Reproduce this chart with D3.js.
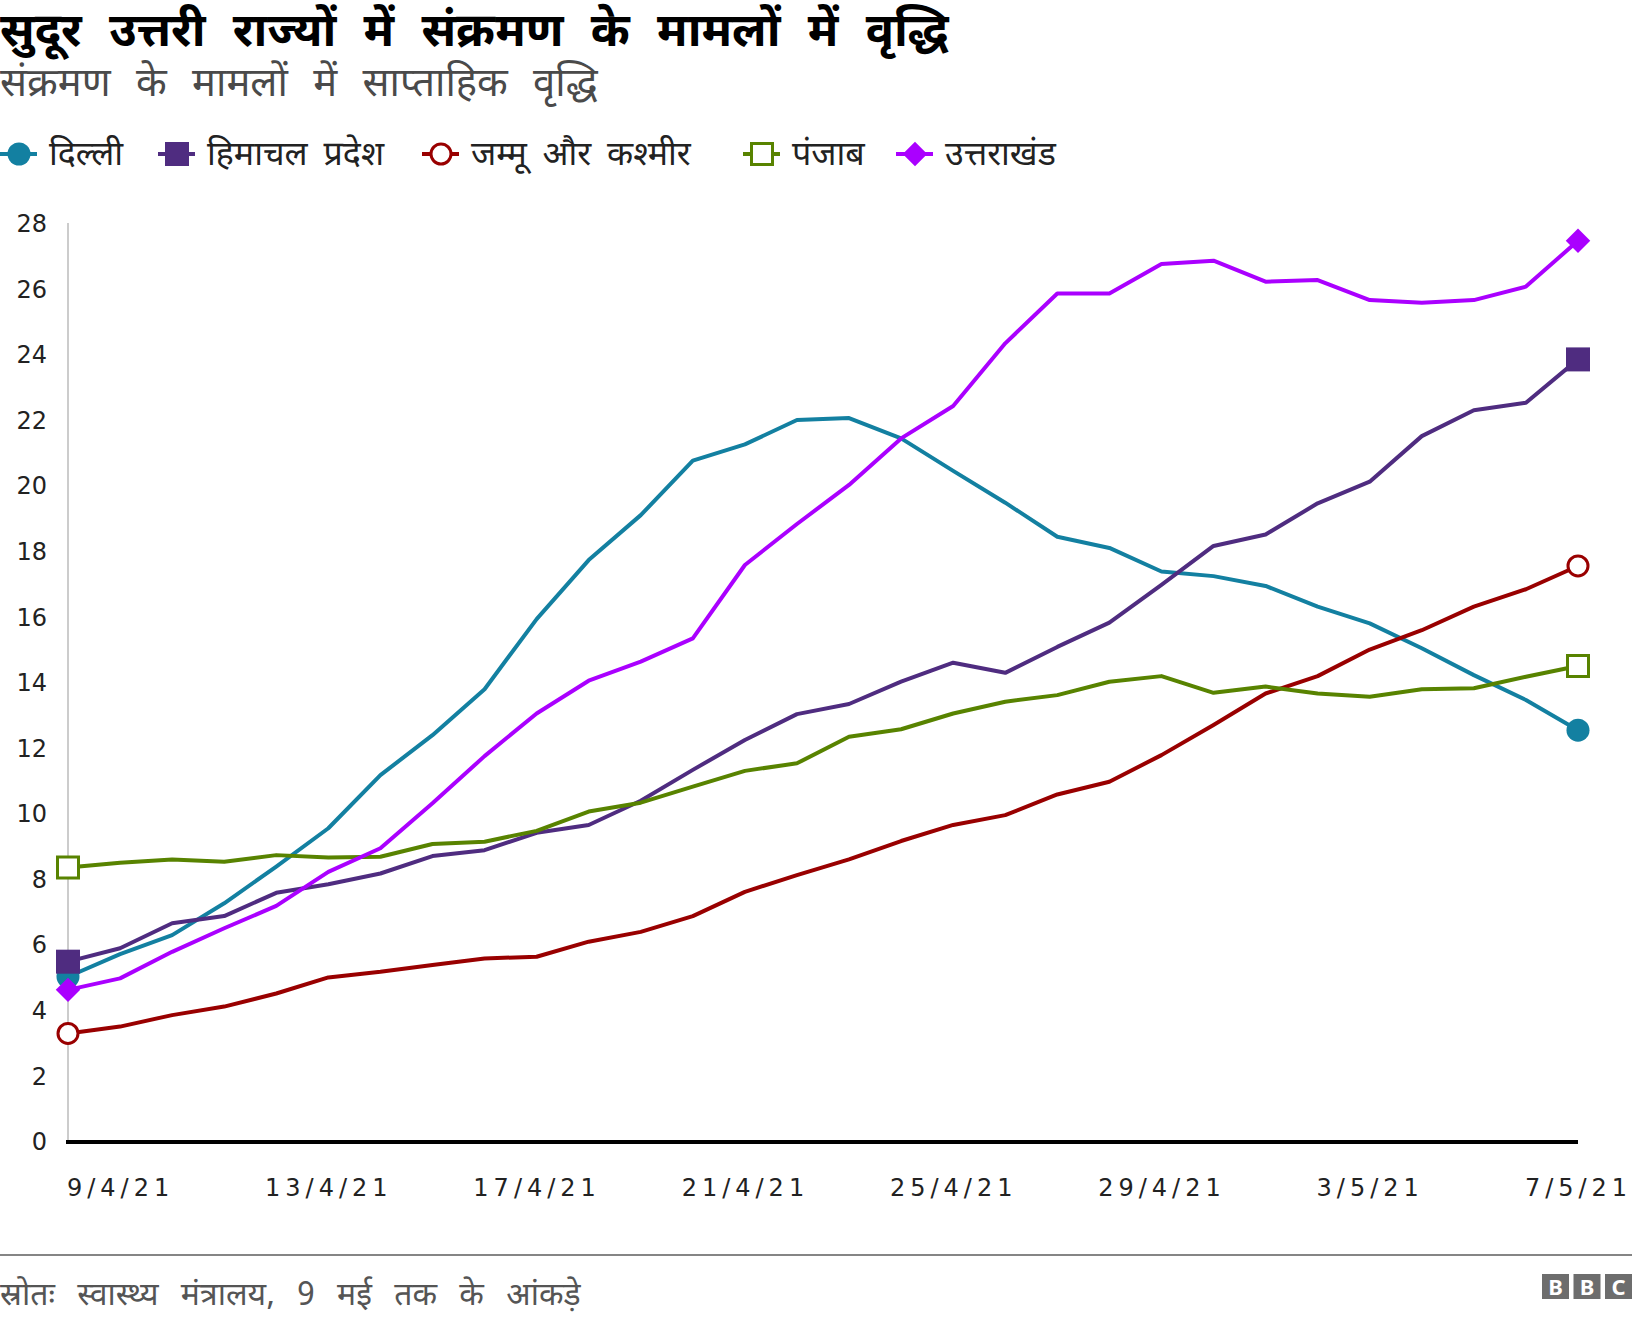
<!DOCTYPE html>
<html>
<head>
<meta charset="utf-8">
<script src="https://d3js.org/d3.v7.min.js"></script>
<style>
body { margin: 0; background: #fff; }
svg text { font-family: "Noto Sans Devanagari", "Noto Sans", sans-serif; }
.num text, text.num { font-family: "DejaVu Sans", sans-serif; }
</style>
</head>
<body>
<svg id="chart" width="1632" height="1322"></svg>
<script>
// dates (one point per day)
var dates = ["8/4/21","9/4/21","10/4/21","11/4/21","12/4/21","13/4/21","14/4/21","15/4/21","16/4/21","17/4/21",
  "18/4/21","19/4/21","20/4/21","21/4/21","22/4/21","23/4/21","24/4/21","25/4/21","26/4/21","27/4/21",
  "28/4/21","29/4/21","30/4/21","1/5/21","2/5/21","3/5/21","4/5/21","5/5/21","6/5/21","7/5/21"];
var tickDates = ["9/4/21","13/4/21","17/4/21","21/4/21","25/4/21","29/4/21","3/5/21","7/5/21"];
var yTicks = [0,2,4,6,8,10,12,14,16,18,20,22,24,26,28];

var delhi = [5.04,5.73,6.31,7.28,8.4,9.57,11.19,12.41,13.81,15.95,17.75,19.12,20.78,21.28,22.02,
  22.08,21.46,20.47,19.5,18.46,18.12,17.4,17.26,16.96,16.33,15.82,15.06,14.24,13.48,12.56];
var himachal = [5.5,5.91,6.67,6.89,7.6,7.86,8.19,8.72,8.9,9.43,9.67,10.41,11.35,12.26,13.05,
  13.36,14.04,14.62,14.31,15.1,15.84,16.99,18.18,18.53,19.48,20.14,21.53,22.32,22.55,23.87];
var jammu = [3.31,3.52,3.87,4.13,4.53,5.02,5.19,5.4,5.6,5.65,6.11,6.41,6.89,7.63,8.14,
  8.62,9.18,9.67,9.97,10.6,10.99,11.8,12.72,13.68,14.21,15.02,15.61,16.33,16.86,17.57];
var punjab = [8.37,8.52,8.62,8.55,8.75,8.68,8.7,9.09,9.16,9.49,10.08,10.35,10.84,11.32,11.55,
  12.36,12.59,13.07,13.43,13.63,14.04,14.21,13.7,13.89,13.68,13.58,13.81,13.84,14.19,14.52];
var uttarakhand = [4.64,4.99,5.8,6.52,7.2,8.24,8.96,10.33,11.77,13.07,14.07,14.65,15.36,17.6,18.85,
  20.04,21.46,22.45,24.36,25.88,25.88,26.78,26.88,26.24,26.29,25.68,25.6,25.68,26.09,27.49];

var seriesNames = ["दिल्ली","हिमाचल प्रदेश","जम्मू और कश्मीर","पंजाब","उत्तराखंड"];
var seriesValues = [delhi, himachal, jammu, punjab, uttarakhand];
var seriesColors = ["#1380a1","#4f2c80","#990000","#588300","#aa00ff"];
var seriesShapes = ["circle","square","opencircle","opensquare","diamond"];
var legendX = [0, 158, 422, 743, 896];

var svg = d3.select("#chart");

var x = d3.scalePoint().domain(dates).range([68, 1578]);
var y = d3.scaleLinear().domain([0, 28]).range([1142, 224]);

// titles
svg.append("text").attr("x", 0).attr("y", 46)
  .attr("font-size", 47).attr("font-weight", "bold").attr("fill", "#000")
  .attr("word-spacing", 15)
  .text("सुदूर उत्तरी राज्यों में संक्रमण के मामलों में वृद्धि");
svg.append("text").attr("x", 0).attr("y", 96)
  .attr("font-size", 40).attr("fill", "#4a4a4a").attr("word-spacing", 15)
  .text("संक्रमण के मामलों में साप्ताहिक वृद्धि");

function drawMarker(g, shape, color, cx, cy){
  if(shape == "circle"){
    g.append("circle").attr("cx", cx).attr("cy", cy).attr("r", 11.5).attr("fill", color);
  } else if(shape == "opencircle"){
    g.append("circle").attr("cx", cx).attr("cy", cy).attr("r", 10)
      .attr("fill", "#fff").attr("stroke", color).attr("stroke-width", 3);
  } else if(shape == "square"){
    g.append("path").attr("d", d3.symbol(d3.symbolSquare, 576)())
      .attr("transform", "translate(" + cx + "," + cy + ")").attr("fill", color);
  } else if(shape == "opensquare"){
    g.append("path").attr("d", d3.symbol(d3.symbolSquare, 441)())
      .attr("transform", "translate(" + cx + "," + cy + ")")
      .attr("fill", "#fff").attr("stroke", color).attr("stroke-width", 3);
  } else {
    g.append("path").attr("d", d3.symbol(d3.symbolSquare, 300)())
      .attr("transform", "translate(" + cx + "," + cy + ") rotate(45)").attr("fill", color);
  }
}

// legend
var legend = svg.append("g");
for(var i = 0; i < seriesNames.length; i++){
  var lx = legendX[i];
  legend.append("line").attr("x1", lx).attr("x2", lx + 37).attr("y1", 154).attr("y2", 154)
    .attr("stroke", seriesColors[i]).attr("stroke-width", 4);
  drawMarker(legend, seriesShapes[i], seriesColors[i], lx + 19, 154);
  legend.append("text").attr("x", lx + 49).attr("y", 165)
    .attr("font-size", 34).attr("fill", "#222").attr("word-spacing", 7)
    .text(seriesNames[i]);
}

// y axis
var yAxis = svg.append("g").attr("class", "num")
  .attr("transform", "translate(68,0)")
  .call(d3.axisLeft(y).tickValues(yTicks).tickSize(0).tickPadding(21));
yAxis.select(".domain").remove();
yAxis.selectAll("text").attr("font-size", 24).attr("fill", "#222");
svg.append("line").attr("x1", 68).attr("x2", 68).attr("y1", 223).attr("y2", 1142)
  .attr("stroke", "#cccccc").attr("stroke-width", 2);

// x axis
var xAxis = svg.append("g").attr("class", "num")
  .attr("transform", "translate(0,1142)")
  .call(d3.axisBottom(x).tickValues(tickDates).tickSize(0).tickPadding(37));
xAxis.select(".domain").remove();
xAxis.selectAll("text").attr("font-size", 24).attr("fill", "#222").attr("letter-spacing", 5);
svg.append("line").attr("x1", 66).attr("x2", 1578).attr("y1", y(0)).attr("y2", y(0))
  .attr("stroke", "#000").attr("stroke-width", 4);

// lines
var line = d3.line()
  .x(function(d, i){ return x(dates[i]); })
  .y(function(d){ return y(d); });

var plot = svg.append("g");
for(var j = 0; j < seriesValues.length; j++){
  var vals = seriesValues[j];
  plot.append("path").datum(vals).attr("d", line)
    .attr("fill", "none").attr("stroke", seriesColors[j])
    .attr("stroke-width", 4).attr("stroke-linejoin", "round");
}
// first and last markers
for(var k = 0; k < seriesValues.length; k++){
  var v = seriesValues[k];
  drawMarker(plot, seriesShapes[k], seriesColors[k], x(dates[0]), y(v[0]));
  drawMarker(plot, seriesShapes[k], seriesColors[k], x(dates[dates.length - 1]), y(v[v.length - 1]));
}

// footer
svg.append("line").attr("x1", 0).attr("x2", 1632).attr("y1", 1255).attr("y2", 1255)
  .attr("stroke", "#858585").attr("stroke-width", 2);
svg.append("text").attr("x", 0).attr("y", 1305)
  .attr("font-size", 32).attr("fill", "#555").attr("word-spacing", 14)
  .text("स्रोतः स्वास्थ्य मंत्रालय, 9 मई तक के आंकड़े");

var bbc = svg.append("g");
var letters = ["B","B","C"];
for(var b = 0; b < letters.length; b++){
  bbc.append("rect").attr("x", 1542 + b * 31.5).attr("y", 1274).attr("width", 27).attr("height", 25)
    .attr("fill", "#6d6d6d");
  bbc.append("text").attr("x", 1542 + b * 31.5 + 13.5).attr("y", 1295)
    .attr("text-anchor", "middle").attr("font-size", 22).attr("font-weight", "bold")
    .attr("font-family", "Liberation Sans, sans-serif").attr("fill", "#fff").text(letters[b]);
}
</script>
</body>
</html>
